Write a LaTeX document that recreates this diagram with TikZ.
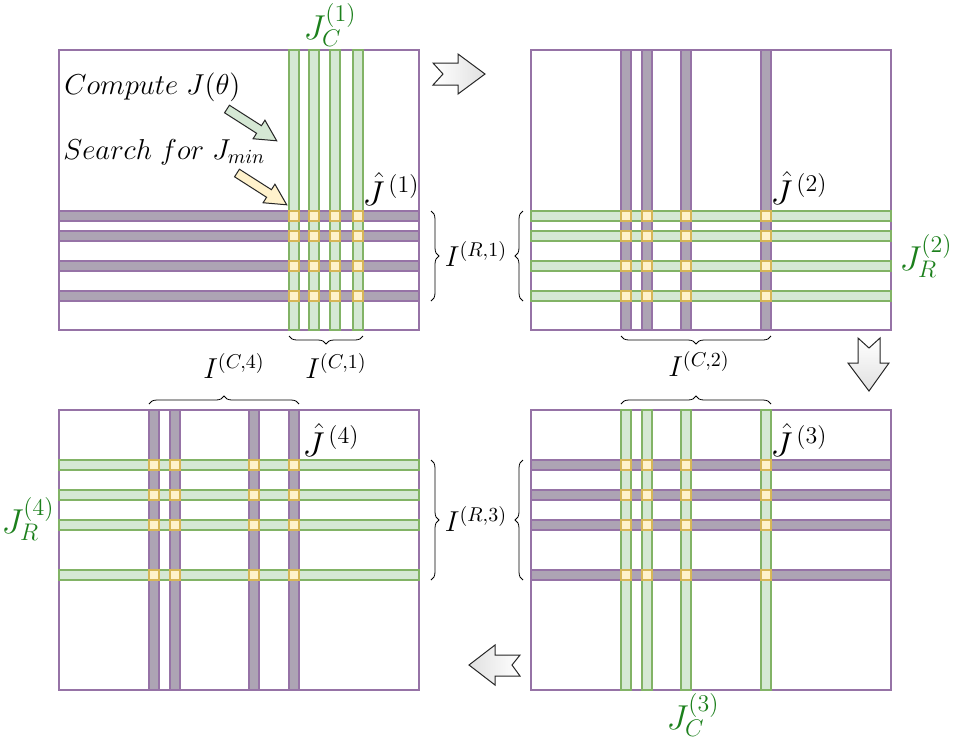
\documentclass[tikz,border=0pt]{standalone}
\usetikzlibrary{decorations.pathreplacing}

\definecolor{panelline}{HTML}{9673A6}
\definecolor{rowfill}{HTML}{ADA4B4}
\definecolor{colfill}{HTML}{D5E8D4}
\definecolor{colline}{HTML}{82B366}
\definecolor{hitfill}{HTML}{FFF2CC}
\definecolor{hitline}{HTML}{D6B656}
\definecolor{labgreen}{HTML}{1C801C}

\tikzset{
	panel/.style={draw=panelline, line width=.6pt, fill=white},
	purplebar/.style={draw=panelline, fill=rowfill, line width=.6pt},
	greenbar/.style={draw=colline, fill=colfill, line width=.6pt},
	hit/.style={draw=hitline, fill=hitfill, line width=.6pt},
	bracket/.style={decorate, decoration={brace, amplitude=4pt}, line width=.4pt},
	bigarrow/.style={draw=black!85, line width=.5pt},
	lab/.style={font=\fontsize{14.5}{17}\selectfont, inner sep=0pt},
	biglab/.style={font=\fontsize{16.5}{19}\selectfont, inner sep=0pt},
}

\begin{document}
\begin{tikzpicture}[x=.5pt, y=-.5pt]
	\useasboundingbox (0,0) rectangle (954,741);
	
	% panel 1 (top left)
	\draw [panel] (59,50) rectangle (419,330);
	\foreach \y in {211,231,261,291} \draw [purplebar] (59,\y) rectangle (419,\y+10);
	\foreach \x in {289,309,330,353} \draw [greenbar] (\x,50) rectangle (\x+10,330);
	\foreach \x in {289,309,330,353} \foreach \y in {211,231,261,291} \draw [hit] (\x,\y) rectangle (\x+10,\y+10);
	
	% panel 2 (top right)
	\draw [panel] (531,50) rectangle (891,330);
	\foreach \x in {621,642,681,761} \draw [purplebar] (\x,50) rectangle (\x+10,330);
	\foreach \y in {211,231,261,291} \draw [greenbar] (531,\y) rectangle (891,\y+10);
	\foreach \x in {621,642,681,761} \foreach \y in {211,231,261,291} \draw [hit] (\x,\y) rectangle (\x+10,\y+10);
	
	% panel 3 (bottom right)
	\draw [panel] (531,410) rectangle (891,690);
	\foreach \y in {460,490,520,570} \draw [purplebar] (531,\y) rectangle (891,\y+10);
	\foreach \x in {621,642,681,761} \draw [greenbar] (\x,410) rectangle (\x+10,690);
	\foreach \x in {621,642,681,761} \foreach \y in {460,490,520,570} \draw [hit] (\x,\y) rectangle (\x+10,\y+10);
	
	% panel 4 (bottom left)
	\draw [panel] (59,410) rectangle (419,690);
	\foreach \x in {149,170,249,289} \draw [purplebar] (\x,410) rectangle (\x+10,690);
	\foreach \y in {460,490,520,570} \draw [greenbar] (59,\y) rectangle (419,\y+10);
	\foreach \x in {149,170,249,289} \foreach \y in {460,490,520,570} \draw [hit] (\x,\y) rectangle (\x+10,\y+10);
	
	% step arrows
	\shade [bigarrow, left color=white, right color=black!12] (433,63) -- (458,63) -- (458,54) -- (485,74) -- (458,94) -- (458,85) -- (433,85) -- (443,74) -- cycle;
	\shade [bigarrow, top color=white, bottom color=black!12] (858,338) -- (869,348) -- (880,338) -- (880,363) -- (889,363) -- (869,391) -- (848,363) -- (858,363) -- cycle;
	\shade [bigarrow, left color=black!12, right color=white] (520,655) -- (495,655) -- (495,645) -- (469,665) -- (495,685) -- (495,676) -- (520,676) -- (512,665) -- cycle;
	
	% hint arrows
	\begin{scope}[shift={(227,109)}, rotate=-32.6]
		\draw [bigarrow, fill=colfill] (0,-4.5) -- (38,-4.5) -- (38,-11) -- (59,0) -- (38,11) -- (38,4.5) -- (0,4.5) -- cycle;
	\end{scope}
	\begin{scope}[shift={(237,173)}, rotate=-32.6]
		\draw [bigarrow, fill=hitfill] (0,-4.5) -- (38,-4.5) -- (38,-11) -- (59,0) -- (38,11) -- (38,4.5) -- (0,4.5) -- cycle;
	\end{scope}
	\node [lab, anchor=base west] (compute) at (64,94) {$Compute\; J(\theta)$};
	\node [lab, anchor=base west] (search) at (63,159) {$Search\; for\; J_{min}$};
	
	% braces
	\draw [bracket] (363,336) -- (289,336);
	\draw [bracket] (431,211) -- (431,301);
	\draw [bracket] (523,301) -- (523,211);
	\draw [bracket] (771,336) -- (621,336);
	\draw [bracket] (621,404) -- (771,404);
	\draw [bracket] (431,460) -- (431,580);
	\draw [bracket] (523,580) -- (523,460);
	\draw [bracket] (149,404) -- (299,404);
	
	% labels
	\node [biglab, text=labgreen] (jc1) at (330,25) {$J_C^{(1)}$};
	\node [biglab, text=labgreen] (jr2) at (926,256) {$J_R^{(2)}$};
	\node [biglab, text=labgreen] (jc3) at (693,715) {$J_C^{(3)}$};
	\node [biglab, text=labgreen] (jr4) at (28,519) {$J_R^{(4)}$};
	\node [biglab] (jhat1) at (391,189) {$\hat{J}^{\,(1)}$};
	\node [biglab] (jhat2) at (799,188) {$\hat{J}^{\,(2)}$};
	\node [biglab] (jhat3) at (799,440) {$\hat{J}^{\,(3)}$};
	\node [biglab] (jhat4) at (331,440) {$\hat{J}^{\,(4)}$};
	\node [lab] (ic1) at (336,366) {$I^{(C,1)}$};
	\node [lab] (ic2) at (699,364) {$I^{(C,2)}$};
	\node [lab] (ic4) at (234,366) {$I^{(C,4)}$};
	\node [lab] (ir1) at (476,254) {$I^{(R,1)}$};
	\node [lab] (ir3) at (476,519) {$I^{(R,3)}$};
\end{tikzpicture}
\end{document}
